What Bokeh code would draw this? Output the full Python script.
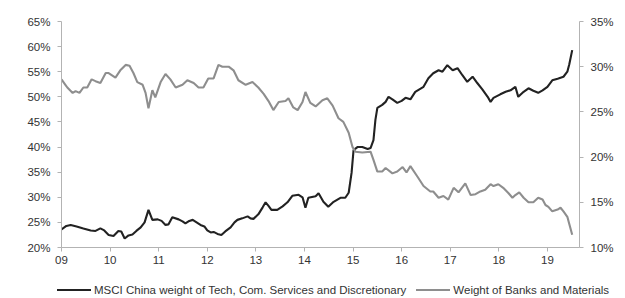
from bokeh.plotting import figure
from bokeh.layouts import column
from bokeh.models import Range1d, LinearAxis, FixedTicker, PrintfTickFormatter, Div
from bokeh.embed import file_html
from bokeh.resources import INLINE

# MSCI China weight of Tech, Com. Services and Discretionary (left axis, %)
years_tech = [2009.00, 2009.10, 2009.19, 2009.31, 2009.45, 2009.60, 2009.70, 2009.80, 2009.88, 2009.97,
              2010.07, 2010.17, 2010.23, 2010.30, 2010.38, 2010.46, 2010.54, 2010.63, 2010.71, 2010.79,
              2010.87, 2010.98, 2011.06, 2011.14, 2011.20, 2011.28, 2011.41, 2011.49, 2011.55, 2011.63,
              2011.70, 2011.78, 2011.86, 2011.94, 2012.00, 2012.07, 2012.13, 2012.21, 2012.29, 2012.37,
              2012.48, 2012.56, 2012.62, 2012.72, 2012.83, 2012.89, 2012.95, 2013.05, 2013.14, 2013.20,
              2013.26, 2013.32, 2013.44, 2013.55, 2013.65, 2013.75, 2013.88, 2013.96, 2014.02, 2014.08,
              2014.23, 2014.29, 2014.39, 2014.49, 2014.60, 2014.74, 2014.84, 2014.91, 2014.97, 2015.01,
              2015.09, 2015.19, 2015.30, 2015.36, 2015.42, 2015.46, 2015.50, 2015.60, 2015.67, 2015.73,
              2015.81, 2015.91, 2016.00, 2016.08, 2016.18, 2016.28, 2016.45, 2016.55, 2016.65, 2016.76,
              2016.84, 2016.94, 2017.05, 2017.15, 2017.25, 2017.35, 2017.46, 2017.56, 2017.66, 2017.77,
              2017.83, 2017.89, 2018.03, 2018.14, 2018.24, 2018.34, 2018.40, 2018.51, 2018.61, 2018.71,
              2018.81, 2018.90, 2019.00, 2019.10, 2019.21, 2019.33, 2019.41, 2019.45, 2019.51]
tech = [23.6, 24.3, 24.5, 24.2, 23.8, 23.4, 23.3, 23.8, 23.4, 22.5,
        22.3, 23.3, 23.2, 21.8, 22.4, 22.6, 23.3, 24.0, 25.0, 27.5,
        25.5, 25.6, 25.3, 24.5, 24.6, 26.0, 25.6, 25.2, 24.8, 25.3,
        25.5, 25.0, 24.5, 24.2, 23.4, 23.0, 23.1, 22.7, 22.5, 23.2,
        24.0, 25.0, 25.5, 25.8, 26.2, 25.8, 25.7, 26.6, 28.0, 29.0,
        28.3, 27.5, 27.5, 28.2, 29.0, 30.3, 30.5, 30.0, 27.9, 29.9,
        30.2, 30.8, 29.1, 28.1, 29.1, 29.9, 29.9, 30.9, 34.9, 39.4,
        40.0, 40.0, 39.6, 39.8, 41.4, 45.4, 47.8, 48.4, 49.0, 50.0,
        49.5, 48.8, 49.2, 49.8, 49.5, 51.0, 52.0, 53.7, 54.7, 55.3,
        55.0, 56.3, 55.3, 55.7, 54.3, 53.0, 54.0, 52.7, 51.5, 50.0,
        49.0, 49.8, 50.5, 51.0, 51.3, 52.0, 50.0, 51.0, 51.7, 51.2,
        50.8, 51.3, 52.0, 53.3, 53.6, 54.0, 55.0, 56.5, 59.3]

# Weight of Banks and Materials (right axis, %)
years_banks = [2009.00, 2009.08, 2009.12, 2009.23, 2009.29, 2009.37, 2009.45, 2009.53, 2009.62, 2009.70,
               2009.80, 2009.91, 2009.97, 2010.11, 2010.21, 2010.32, 2010.40, 2010.48, 2010.56, 2010.67,
               2010.73, 2010.79, 2010.87, 2010.93, 2011.04, 2011.14, 2011.24, 2011.35, 2011.49, 2011.59,
               2011.72, 2011.82, 2011.92, 2012.02, 2012.13, 2012.23, 2012.31, 2012.44, 2012.54, 2012.64,
               2012.79, 2012.93, 2013.05, 2013.16, 2013.26, 2013.36, 2013.47, 2013.61, 2013.67, 2013.77,
               2013.86, 2013.96, 2014.02, 2014.12, 2014.23, 2014.37, 2014.47, 2014.58, 2014.70, 2014.80,
               2014.91, 2014.99, 2015.05, 2015.19, 2015.36, 2015.42, 2015.50, 2015.60, 2015.67, 2015.81,
               2015.91, 2016.02, 2016.10, 2016.18, 2016.33, 2016.45, 2016.59, 2016.65, 2016.76, 2016.86,
               2016.96, 2017.07, 2017.17, 2017.31, 2017.42, 2017.52, 2017.62, 2017.72, 2017.83, 2017.89,
               2017.99, 2018.09, 2018.20, 2018.28, 2018.34, 2018.42, 2018.51, 2018.61, 2018.71, 2018.81,
               2018.90, 2018.96, 2019.02, 2019.10, 2019.21, 2019.27, 2019.33, 2019.41, 2019.44, 2019.51]
banks = [28.6, 28.0, 27.7, 27.1, 27.3, 27.1, 27.7, 27.7, 28.6, 28.4,
         28.2, 29.3, 29.3, 28.8, 29.6, 30.2, 30.1, 29.3, 28.3, 28.0,
         27.1, 25.4, 27.4, 26.6, 28.3, 29.2, 28.6, 27.7, 28.0, 28.5,
         28.2, 27.7, 27.7, 28.7, 28.7, 30.2, 30.0, 30.0, 29.6, 28.5,
         28.0, 28.3, 27.7, 27.0, 26.2, 25.2, 26.1, 26.2, 26.5, 25.5,
         25.2, 26.1, 27.2, 26.0, 25.6, 26.3, 26.5, 25.7, 24.3, 23.9,
         22.7, 21.1, 20.6, 20.5, 20.6, 19.7, 18.4, 18.4, 18.8, 18.2,
         18.4, 18.9, 18.3, 19.0, 17.8, 16.8, 16.2, 16.2, 15.5, 15.7,
         15.3, 16.6, 16.1, 17.1, 15.8, 15.9, 16.2, 16.4, 17.0, 16.8,
         17.0, 16.6, 16.0, 15.5, 15.8, 16.1, 15.5, 15.0, 15.0, 15.5,
         15.3, 14.7, 14.5, 14.0, 14.2, 14.4, 14.0, 13.4, 12.8, 11.4]

x_ticks = [2009, 2010, 2011, 2012, 2013, 2014, 2015, 2016, 2017, 2018, 2019]
x_labels = ["09", "10", "11", "12", "13", "14", "15", "16", "17", "18", "19"]
left_ticks = [20, 25, 30, 35, 40, 45, 50, 55, 60, 65]
right_ticks = [10, 15, 20, 25, 30, 35]

label_tech = "MSCI China weight of Tech, Com. Services and Discretionary"
label_banks = "Weight of Banks and Materials"

FONT = "Liberation Sans"
AXIS_COL = "#b3b3b3"
TXT_COL = "#333333"
TECH_COL = "#222222"
BANK_COL = "#8e8e8e"

p = figure(width=617, height=270, output_backend="svg", toolbar_location=None,
           x_range=Range1d(2009, 2019.66), y_range=Range1d(20, 65),
           min_border_left=61, min_border_right=38, min_border_top=21, min_border_bottom=23,
           background_fill_color="white", border_fill_color="white")
p.extra_y_ranges = {"right": Range1d(10, 35)}
p.outline_line_color = None
p.grid.visible = False

p.line(years_tech, tech, line_color=TECH_COL, line_width=2.1)
p.line(years_banks, banks, line_color=BANK_COL, line_width=2.1, y_range_name="right")

def style(ax, standoff):
    ax.axis_line_color = AXIS_COL
    ax.major_tick_line_color = AXIS_COL
    ax.minor_tick_line_color = None
    ax.major_tick_out = 4
    ax.major_tick_in = 0
    ax.major_label_text_font = FONT
    ax.major_label_text_font_size = "11.5px"
    ax.major_label_text_color = TXT_COL
    ax.major_label_standoff = standoff

xa = p.xaxis[0]
xa.ticker = FixedTicker(ticks=x_ticks)
xa.major_label_overrides = {t: l for t, l in zip(x_ticks, x_labels)}
style(xa, 4)

ya = p.yaxis[0]
ya.ticker = FixedTicker(ticks=left_ticks)
ya.formatter = PrintfTickFormatter(format="%d%%")
style(ya, 7)

yr = LinearAxis(y_range_name="right", ticker=FixedTicker(ticks=right_ticks),
                formatter=PrintfTickFormatter(format="%d%%"))
style(yr, 7)
p.add_layout(yr, "right")

# legend strip below the chart
def key(color, text, gap):
    return (f'<span style="display:inline-block;width:34px;height:0;border-top:2px solid {color};'
            f'vertical-align:middle;margin-left:{gap}px;margin-right:3px"></span>'
            f'<span style="vertical-align:middle">{text}</span>')

legend_html = (f'<div style="position:relative;left:52px;top:6px;white-space:nowrap;'
               f'font-family:{FONT};font-size:11.5px;line-height:14px;color:{TXT_COL}">'
               + key(TECH_COL, label_tech, 0) + key(BANK_COL, label_banks, 10) + '</div>')
lg = Div(text=legend_html, width=617, height=20)

layout = column(p, lg, spacing=0)
open("out.html", "w").write(file_html(layout, INLINE))
